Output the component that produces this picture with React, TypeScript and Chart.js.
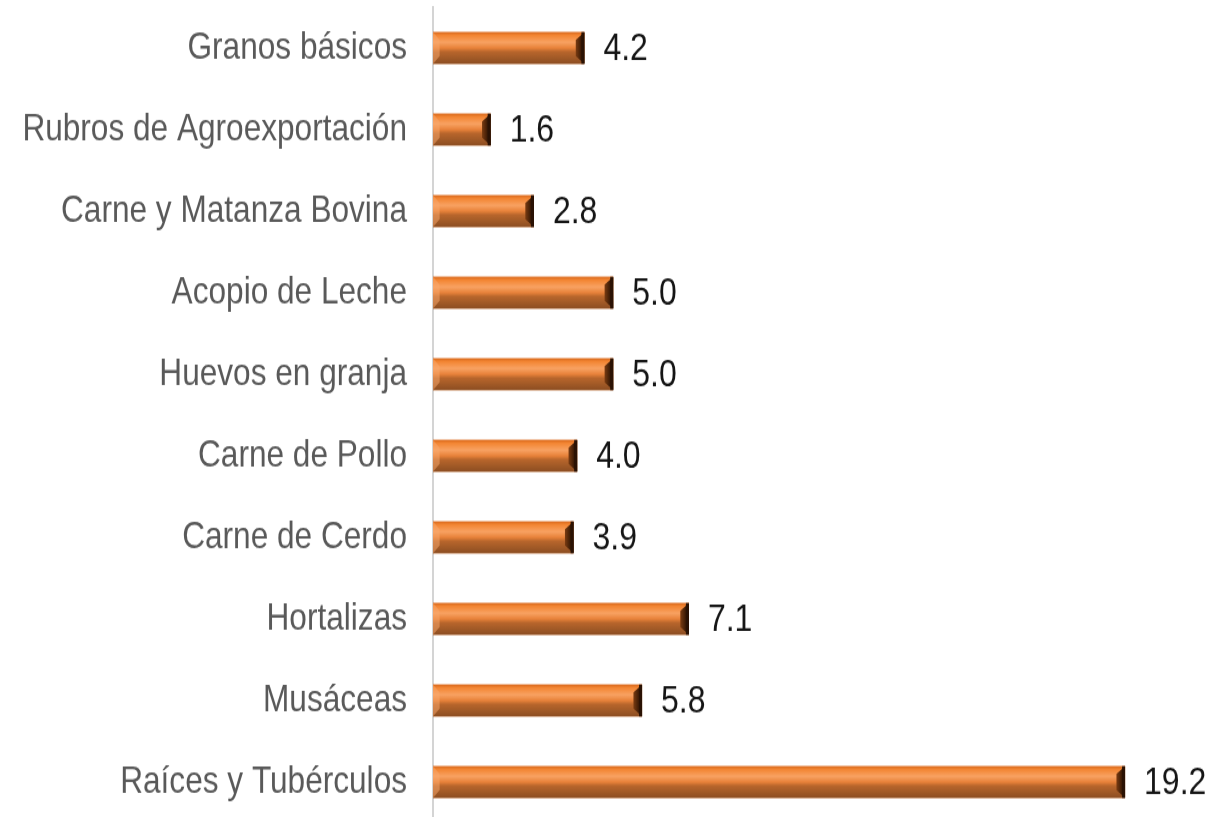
import React, { useEffect, useRef } from "react";
import { Chart, registerables } from "chart.js";

Chart.register(...registerables);

const categories = [
  "Granos básicos",
  "Rubros de Agroexportación",
  "Carne y Matanza Bovina",
  "Acopio de Leche",
  "Huevos en granja",
  "Carne de Pollo",
  "Carne de Cerdo",
  "Hortalizas",
  "Musáceas",
  "Raíces y Tubérculos",
];
const values = [4.2, 1.6, 2.8, 5.0, 5.0, 4.0, 3.9, 7.1, 5.8, 19.2];

const bevelPlugin = {
  id: "bevelBars",
  afterDatasetsDraw(chart: any) {
    const ctx = chart.ctx;
    const meta = chart.getDatasetMeta(0);
    meta.data.forEach((el: any, i: number) => {
      const p = el.getProps(["x", "y", "base", "height"], true);
      const x0 = Math.min(p.base, p.x);
      const x1 = Math.max(p.base, p.x);
      const t = p.y - p.height / 2;
      const b = p.y + p.height / 2;
      const h = b - t;
      ctx.save();
      const g = ctx.createLinearGradient(0, t, 0, b);
      g.addColorStop(0, "#D8681C");
      g.addColorStop(0.1, "#F38532");
      g.addColorStop(0.32, "#F8A262");
      g.addColorStop(0.5, "#E8823A");
      g.addColorStop(0.62, "#B8662C");
      g.addColorStop(1, "#8C4E22");
      ctx.fillStyle = g;
      ctx.fillRect(x0, t, x1 - x0, h);
      const bv = Math.min(7, h * 0.25);
      ctx.fillStyle = "rgba(250,170,110,0.5)";
      ctx.beginPath();
      ctx.moveTo(x0, t);
      ctx.lineTo(x0 + bv, t + bv);
      ctx.lineTo(x0 + bv, b - bv);
      ctx.lineTo(x0, b);
      ctx.closePath();
      ctx.fill();
      const rg = ctx.createLinearGradient(x1 - bv - 2, 0, x1, 0);
      rg.addColorStop(0, "#7A3C12");
      rg.addColorStop(0.6, "#3E1C06");
      rg.addColorStop(1, "#1E0C02");
      ctx.fillStyle = rg;
      ctx.beginPath();
      ctx.moveTo(x1, t);
      ctx.lineTo(x1, b);
      ctx.lineTo(x1 - bv - 2, b - bv);
      ctx.lineTo(x1 - bv - 2, t + bv);
      ctx.closePath();
      ctx.fill();
      ctx.fillStyle = "#2A1204";
      ctx.fillRect(x1 - 3, t, 3, h);
      ctx.restore();

      ctx.save();
      ctx.font = "32px 'Liberation Sans', Arial, sans-serif";
      ctx.fillStyle = "#151515";
      ctx.textAlign = "left";
      ctx.textBaseline = "middle";
      ctx.fillText(values[i].toFixed(1), x1 + 19, p.y + 1);
      ctx.restore();
    });
  },
};

export default function App() {
  const ref = useRef<HTMLCanvasElement | null>(null);
  useEffect(() => {
    document.body.style.margin = "0";
    const chart = new Chart(ref.current as HTMLCanvasElement, {
      type: "bar",
      data: {
        labels: categories,
        datasets: [
          {
            data: values,
            backgroundColor: "#E07A30",
            borderWidth: 0,
            barPercentage: 0.39,
            categoryPercentage: 1,
          },
        ],
      },
      options: {
        indexAxis: "y",
        responsive: false,
        animation: false,
        maintainAspectRatio: false,
        devicePixelRatio: 1,
        layout: { padding: { top: 6, right: 1, bottom: 1, left: 0 } },
        plugins: { legend: { display: false }, tooltip: { enabled: false } },
        scales: {
          x: {
            min: 0,
            max: 22,
            display: false,
            grid: { display: false },
          },
          y: {
            grid: { display: false, drawTicks: false },
            border: { display: true, color: "#D4D4D4", width: 2 },
            ticks: {
              color: "#595959",
              padding: 26,
              font: { family: "'Liberation Sans', Arial, sans-serif", size: 31.6 },
            },
            afterFit(scale: any) {
              scale.width = 433;
              scale.paddingTop = 0;
              scale.paddingBottom = 0;
            },
          },
        },
      },
      plugins: [bevelPlugin],
    });
    return () => chart.destroy();
  }, []);
  return (
    <div style={{ position: "fixed", left: 0, top: 0, width: 1227, height: 817, overflow: "hidden", background: "#fff" }}>
      <canvas ref={ref} width={1227} height={687} style={{ display: "block", width: "1227px", height: "824px" }} />
    </div>
  );
}
